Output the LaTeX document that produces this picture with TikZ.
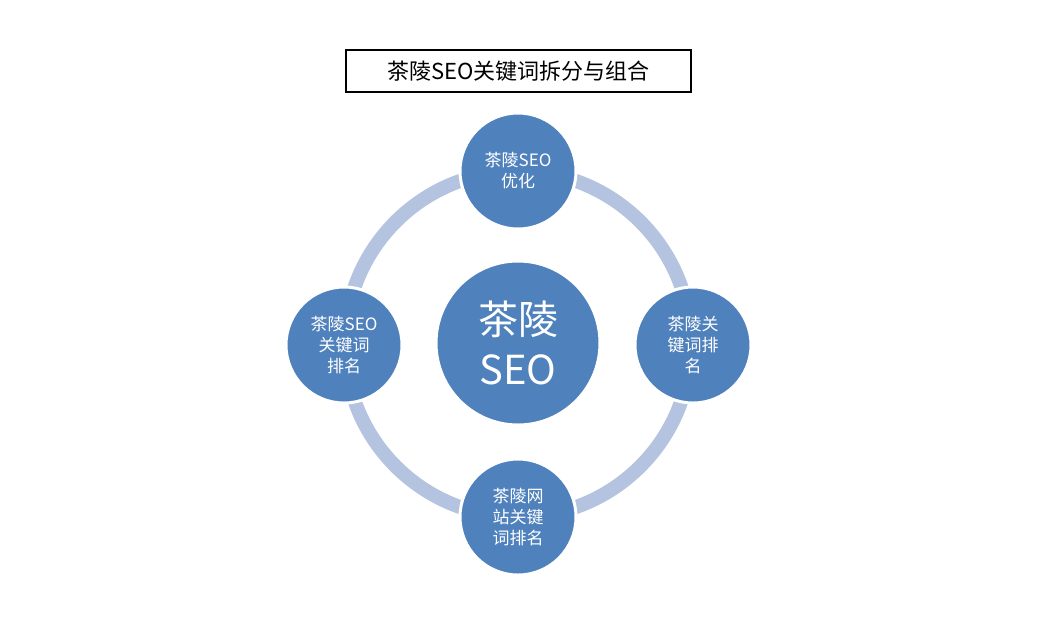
\documentclass[tikz,border=0pt]{standalone}
\usepackage{fontspec}
\setmainfont{Noto Sans CJK SC}
\definecolor{ballc}{HTML}{4F81BD}
\definecolor{ringc}{HTML}{B4C4E0}
\begin{document}
\begin{tikzpicture}[x=1pt,y=-1pt,
  ball/.style={circle,fill=ballc,draw=white,line width=3pt,minimum size=116pt,inner sep=0pt,text=white,align=center,font=\fontsize{17}{21}\selectfont}]
\useasboundingbox[fill=white] (0,0) rectangle (1037,638);
\draw[ringc,line width=14pt] (518,344) circle (173);
\node[draw=black,line width=1.5pt,minimum width=345pt,minimum height=42pt,inner sep=0pt,font=\fontsize{22}{26}\selectfont] (title) at (518.5,71) {茶陵SEO关键词拆分与组合};
\node[ball,minimum size=164pt,font=\fontsize{40}{50}\selectfont] (c) at (518,343) {茶陵\\SEO};
\node[ball] (t) at (518,171) {茶陵SEO\\优化};
\node[ball] (r) at (693,345) {茶陵关\\键词排\\名};
\node[ball] (b) at (518,517) {茶陵网\\站关键\\词排名};
\node[ball] (l) at (344,345) {茶陵SEO\\关键词\\排名};
\end{tikzpicture}
\end{document}
